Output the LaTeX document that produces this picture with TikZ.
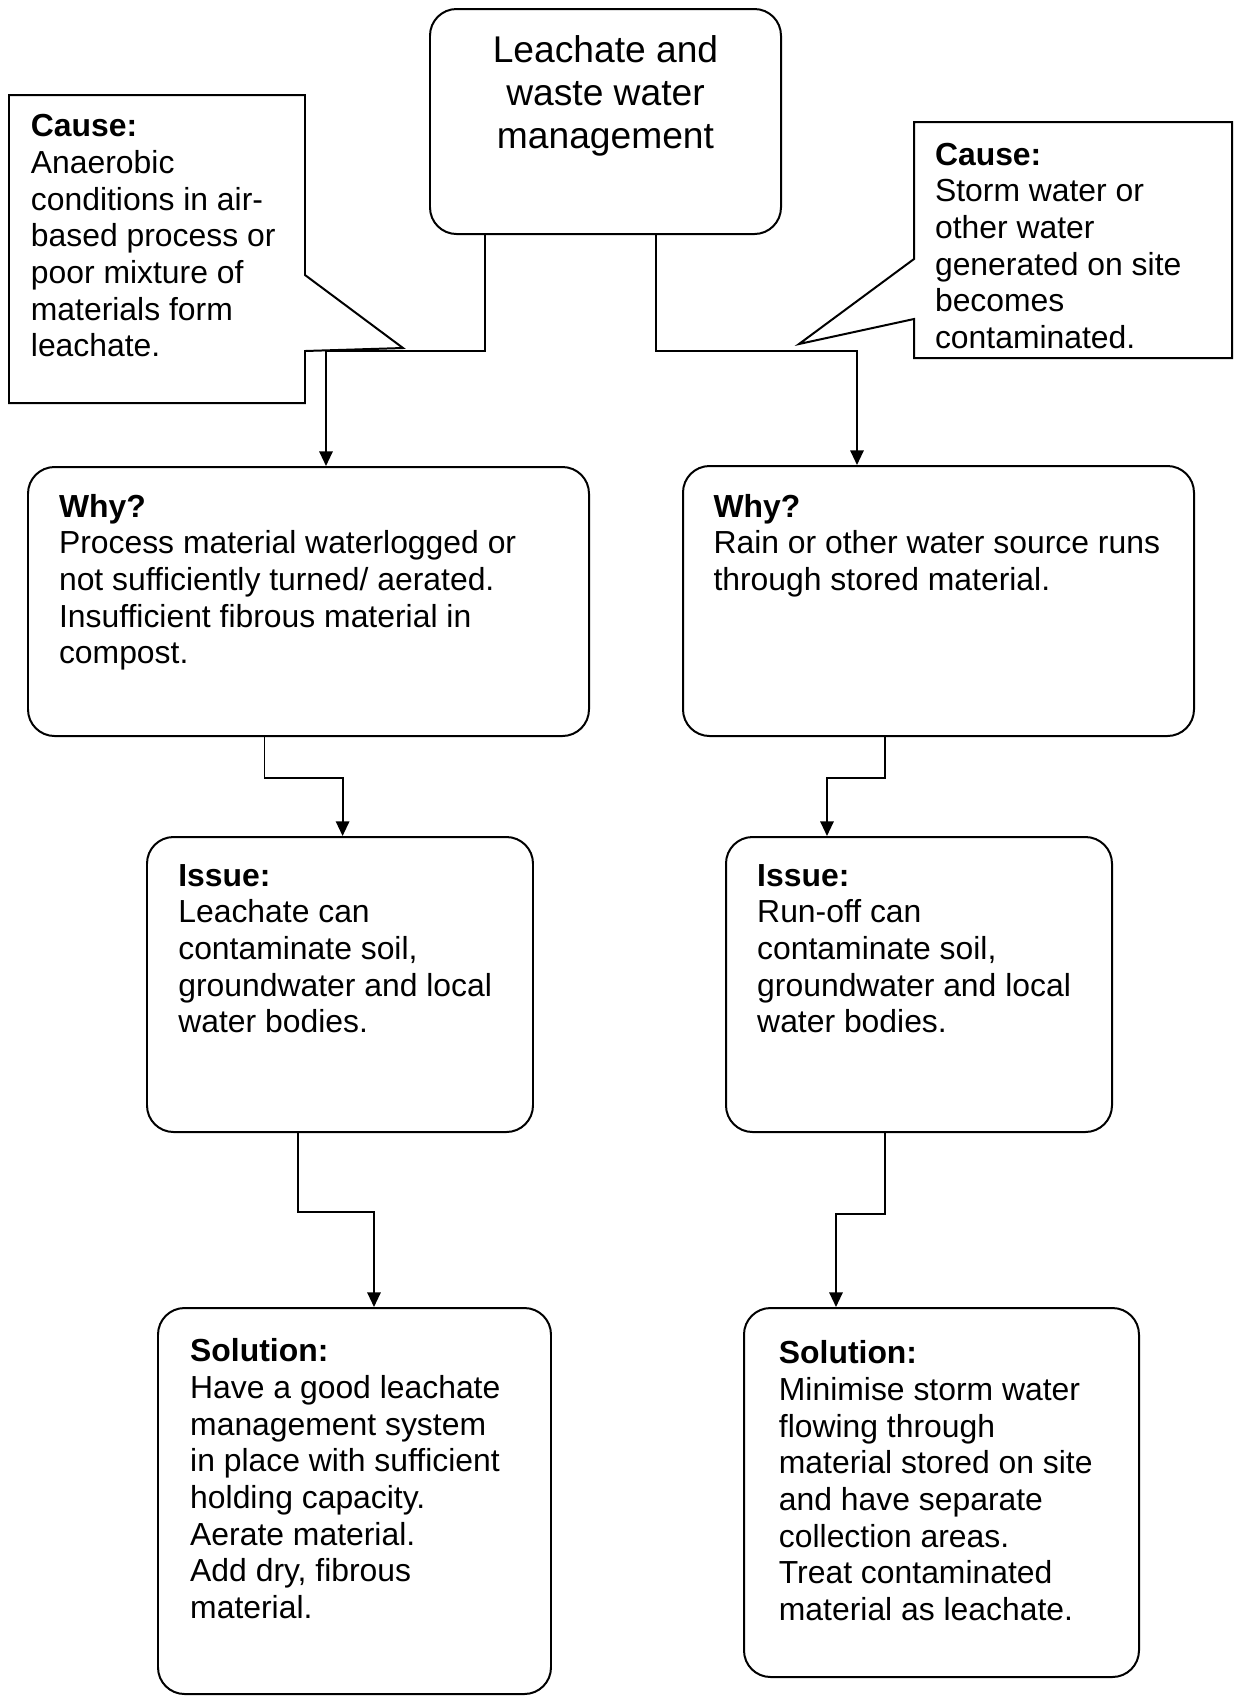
\documentclass[tikz,border=0pt]{standalone}
\usepackage{fontspec}
\setmainfont{Liberation Sans}
\usetikzlibrary{fit,arrows.meta}

\tikzset{
  box/.style={draw, rounded corners=10pt, line width=0.75pt, inner sep=0pt},
  txt/.style={anchor=north west, align=left, inner sep=0pt, font=\fontsize{12}{13.8}\selectfont},
  link/.style={->, >={Triangle[length=5.5pt,width=5pt]}, line width=0.75pt}
}

\begin{document}
\begin{tikzpicture}[x=0.3764pt, y=-0.3764pt]
\useasboundingbox (0,0) rectangle (1237,1700);

% boxes
\node[box, fit={(430,9) (781,234)}] (top) {};
\node[box, fit={(28,467) (589,736)}] (why1) {};
\node[box, fit={(683,466) (1194,736)}] (why2) {};
\node[box, fit={(147,837) (533,1132)}] (iss1) {};
\node[box, fit={(726,837) (1112,1132)}] (iss2) {};
\node[box, fit={(158,1308) (551,1694)}] (sol1) {};
\node[box, fit={(744,1308) (1139,1677)}] (sol2) {};

% callouts
\draw[line width=0.75pt] (9,95) -- (305,95) -- (305,275) -- (403,348) -- (305,351) -- (305,403) -- (9,403) -- cycle;
\draw[line width=0.75pt] (914,122) -- (1232,122) -- (1232,358) -- (914,358) -- (914,319) -- (799,344) -- (914,259) -- cycle;

% texts
\node[anchor=north, align=center, inner sep=0pt, font=\fontsize{14}{16.1}\selectfont] (title) at (605.5,32.3)
  {\strut Leachate and\\waste water\\management};
\node[txt] (cause1) at (30.4,110.5) {\strut\textbf{Cause:}\\Anaerobic\\conditions in air-\\based process or\\poor mixture of\\materials form\\leachate.};
\node[txt] (cause2) at (934.5,139) {\strut\textbf{Cause:}\\Storm water or\\other water\\generated on site\\becomes\\contaminated.};
\node[txt] (whyt1) at (58.5,491) {\strut\textbf{Why?}\\Process material waterlogged or\\not sufficiently turned/ aerated.\\Insufficient fibrous material in\\compost.};
\node[txt] (whyt2) at (713,491) {\strut\textbf{Why?}\\Rain or other water source runs\\through stored material.};
\node[txt] (isst1) at (177.8,860) {\strut\textbf{Issue:}\\Leachate can\\contaminate soil,\\groundwater and local\\water bodies.};
\node[txt] (isst2) at (756.7,860) {\strut\textbf{Issue:}\\Run-off can\\contaminate soil,\\groundwater and local\\water bodies.};
\node[txt] (solt1) at (189.7,1335.5) {\strut\textbf{Solution:}\\Have a good leachate\\management system\\in place with sufficient\\holding capacity.\\Aerate material.\\Add dry, fibrous\\material.};
\node[txt] (solt2) at (778.4,1337.7) {\strut\textbf{Solution:}\\Minimise storm water\\flowing through\\material stored on site\\and have separate\\collection areas.\\Treat contaminated\\material as leachate.};

% elbows
\coordinate (e1) at (326,351);
\coordinate (e2) at (857,351);
\coordinate (e3) at (342.6,778);
\coordinate (e4) at (827,778);
\coordinate (e5) at (374,1212);
\coordinate (e6) at (836,1214);

% connectors
\draw[link] (top.south) ++(-120.5,0) |- (e1) -- (why1.north -| e1);
\draw[link] (top.south) ++(50.2,0) |- (e2) -- (why2.north -| e2);
\draw[link] (why1.south) ++(-44,0) |- (e3) -- (iss1.north -| e3);
\draw[link] (why2.south) ++(-54,0) |- (e4) -- (iss2.north -| e4);
\draw[link] (iss1.south) ++(-42.4,0) |- (e5) -- (sol1.north -| e5);
\draw[link] (iss2.south) ++(-34.4,0) |- (e6) -- (sol2.north -| e6);

\end{tikzpicture}
\end{document}
